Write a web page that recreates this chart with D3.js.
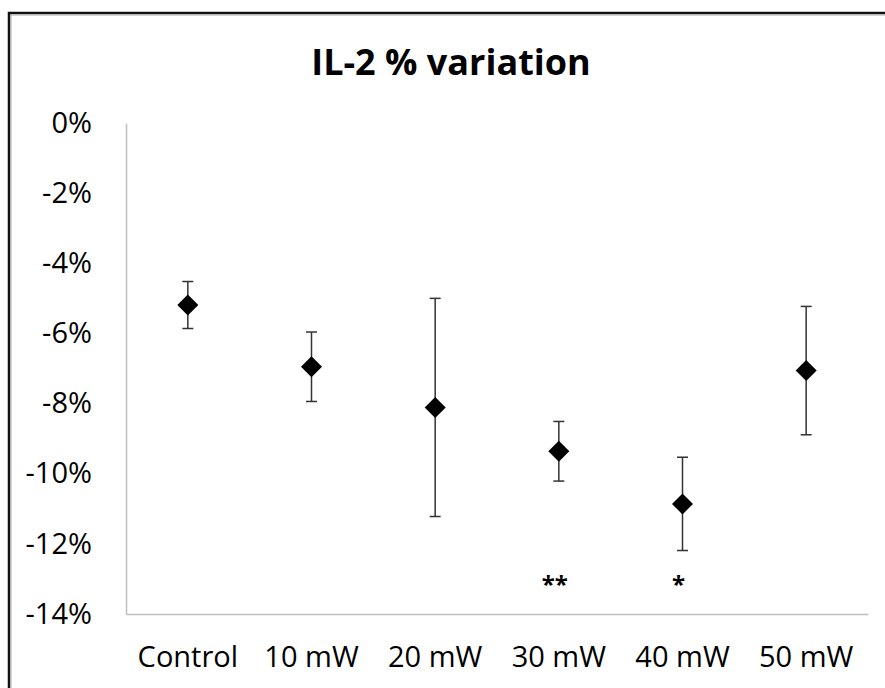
<!DOCTYPE html>
<html>
  <head>
    <title>IL-2 % variation</title>
    <script src="https://d3js.org/d3.v7.min.js"></script>
    <style>
      body { margin: 0; background: #fff; }
      text { font-family: "Open Sans", "Noto Sans", sans-serif; fill: #000; }
      .axis path { stroke: #bfbfbf; stroke-width: 1.5; }
      .axis text { font-size: 29px; }
    </style>
  </head>
  <body>
    <svg width="885" height="688"></svg>
    <script>
      // data
      var categories = ["Control", "10 mW", "20 mW", "30 mW", "40 mW", "50 mW"];
      var means = [-0.0519, -0.0695, -0.0811, -0.0936, -0.1086, -0.0706];
      var errors = [0.0067, 0.0099, 0.0311, 0.0085, 0.0133, 0.0183];
      var yTicks = [0, -0.02, -0.04, -0.06, -0.08, -0.1, -0.12, -0.14];
      var marks = ["", "", "", "**", "*", ""];
      var markLevel = -0.134;

      var margin = { top: 123, right: 17, bottom: 74, left: 126 },
        width = 885 - margin.left - margin.right,
        height = 688 - margin.top - margin.bottom;

      var svg = d3.select("svg");

      // outer frame (right and bottom edges fall outside the picture)
      svg.append("rect")
        .attr("x", 9).attr("y", 13)
        .attr("width", 900).attr("height", 700)
        .style("fill", "none").style("stroke", "#111").style("stroke-width", 2.5);
      svg.append("rect")
        .attr("x", 11).attr("y", 15)
        .attr("width", 900).attr("height", 700)
        .style("fill", "none").style("stroke", "#aaa").style("stroke-width", 1);

      svg.append("text")
        .attr("x", 451)
        .attr("y", 75)
        .style("text-anchor", "middle")
        .style("font-size", "36px")
        .style("font-weight", "bold")
        .text("IL-2 % variation");

      var g = svg.append("g")
        .attr("transform", "translate(" + margin.left + "," + margin.top + ")");

      var x = d3.scaleBand().domain(categories).range([0, width]).padding(0);
      var y = d3.scaleLinear().domain([-0.14, 0]).range([height, 0]);

      var yAxis = g.append("g")
        .attr("class", "axis")
        .call(d3.axisLeft(y)
          .tickValues(yTicks)
          .tickSize(0)
          .tickSizeOuter(0)
          .tickPadding(34)
          .tickFormat(function (d) { return Math.round(d * 100) + "%"; }));
      yAxis.selectAll(".tick line").remove();

      var xAxis = g.append("g")
        .attr("class", "axis")
        .attr("transform", "translate(0," + height + ")")
        .call(d3.axisBottom(x).tickSize(0).tickSizeOuter(0).tickPadding(32));
      xAxis.selectAll(".tick line").remove();

      var cx = function (i) { return x(categories[i]) + x.bandwidth() / 2; };

      // error bars
      var bars = g.selectAll("g.err")
        .data(means)
        .enter()
        .append("g")
        .attr("class", "err")
        .style("stroke", "#333")
        .style("stroke-width", 1.5);
      bars.append("line")
        .attr("x1", function (d, i) { return cx(i); })
        .attr("x2", function (d, i) { return cx(i); })
        .attr("y1", function (d, i) { return y(d + errors[i]); })
        .attr("y2", function (d, i) { return y(d - errors[i]); });
      bars.append("line")
        .attr("x1", function (d, i) { return cx(i) - 5.5; })
        .attr("x2", function (d, i) { return cx(i) + 5.5; })
        .attr("y1", function (d, i) { return y(d + errors[i]); })
        .attr("y2", function (d, i) { return y(d + errors[i]); });
      bars.append("line")
        .attr("x1", function (d, i) { return cx(i) - 5.5; })
        .attr("x2", function (d, i) { return cx(i) + 5.5; })
        .attr("y1", function (d, i) { return y(d - errors[i]); })
        .attr("y2", function (d, i) { return y(d - errors[i]); });

      // diamond markers
      g.selectAll("path.pt")
        .data(means)
        .enter()
        .append("path")
        .attr("class", "pt")
        .attr("d", "M0,-10.5L10.5,0L0,10.5L-10.5,0Z")
        .attr("transform", function (d, i) { return "translate(" + cx(i) + "," + y(d) + ")"; })
        .style("fill", "#000");

      // significance marks
      g.selectAll("text.sig")
        .data(marks)
        .enter()
        .append("text")
        .attr("class", "sig")
        .attr("x", function (d, i) { return cx(i) - 4; })
        .attr("y", y(markLevel))
        .style("text-anchor", "middle")
        .style("font-size", "24px")
        .style("font-weight", "bold")
        .text(function (d) { return d; });
    </script>
  </body>
</html>
